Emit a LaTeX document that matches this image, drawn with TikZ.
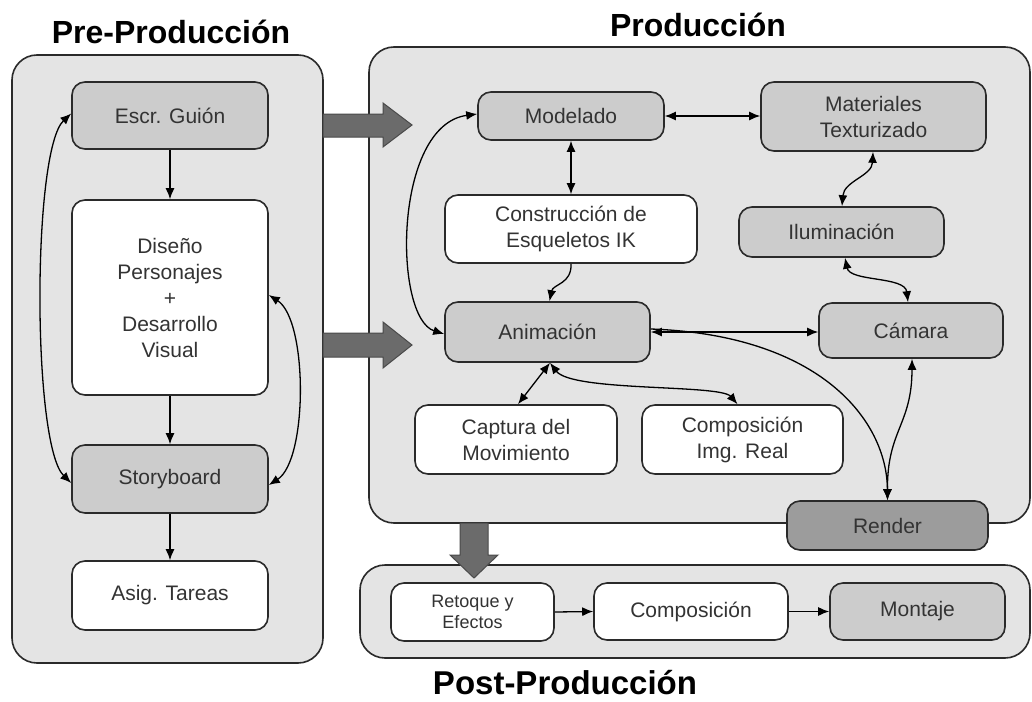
\documentclass[tikz,border=0pt]{standalone}
\usepackage{fontspec}
\setmainfont{Liberation Sans}
\usetikzlibrary{arrows.meta}
\definecolor{panelfill}{HTML}{E4E4E4}
\definecolor{nodegray}{HTML}{CCCCCC}
\definecolor{rendergray}{HTML}{9C9C9C}
\definecolor{bigarrow}{HTML}{6B6B6B}
\definecolor{txt}{HTML}{333333}
\definecolor{edge}{HTML}{2A2A2A}
\begin{document}
\begin{tikzpicture}[x=1pt,y=-1pt,
  panel/.style={draw=edge, line width=1.6pt, fill=panelfill, rounded corners=25pt, inner sep=0pt},
  box/.style={draw=edge, line width=1.6pt, rounded corners=13pt, align=center, text=txt,
              font=\fontsize{21}{26}\selectfont, inner sep=0pt},
  graybox/.style={box, fill=nodegray},
  whitebox/.style={box, fill=white},
  conn/.style={line width=1.3pt, draw=black, >={Latex[length=11pt,width=9pt]}},
  title/.style={font=\bfseries\fontsize{32}{36}\selectfont, anchor=base, inner sep=0pt},
  fat/.style={fill=bigarrow, draw=edge!85, line width=1pt, line join=miter}
]
\useasboundingbox[fill=white] (0,0) rectangle (1032,701);

% panels
\node[panel, minimum width=311pt, minimum height=608pt] (pre)  at (167.5,359) {};
\node[panel, minimum width=661pt, minimum height=476pt] (prod) at (699.5,285) {};
\node[panel, minimum width=670pt, minimum height=93pt]  (post) at (695,611.5) {};

% titles
\node[title] (pretitle)  at (171,44)  {Pre-Producción};
\node[title] (prodtitle) at (698,37)  {Producción};
\node[title, font=\bfseries\fontsize{33}{37}\selectfont] (posttitle) at (565,694) {Post-Producción};

% big arrows
\draw[fat] (323,114) -- (383,114) -- (383,103) -- (412,125) -- (383,147) -- (383,137) -- (323,137) -- cycle;
\draw[fat] (323,333) -- (383,333) -- (383,322) -- (412,345) -- (383,368) -- (383,357) -- (323,357) -- cycle;
\draw[fat] (460,523) -- (460,555) -- (450,555) -- (474,578) -- (498,555) -- (488,555) -- (488,523) -- cycle;

% pre-production nodes
\node[graybox,  minimum width=196pt, minimum height=67pt]  (escr)  at (170,115.5) {Escr. Guión};
\node[whitebox, minimum width=196pt, minimum height=195pt] (diseno) at (170,297.5) {Diseño\\Personajes\\+\\Desarrollo\\Visual};
\node[graybox,  minimum width=196pt, minimum height=68pt]  (story) at (170,479) {Storyboard};
\node[whitebox, minimum width=196pt, minimum height=69pt]  (asig)  at (170,595.5) {Asig. Tareas};

% production nodes
\node[graybox,  minimum width=186pt, minimum height=48pt] (model) at (571,116) {Modelado};
\node[graybox,  minimum width=225pt, minimum height=69pt] (mat)   at (873.5,116.5) {Materiales\\Texturizado};
\node[whitebox, minimum width=252pt, minimum height=68pt] (constr) at (571,229) {Construcción de\\Esqueletos IK};
\node[graybox,  minimum width=205pt, minimum height=50pt] (ilum)  at (841.5,232) {Iluminación};
\node[graybox,  minimum width=205pt, minimum height=60pt] (anim)  at (547.5,332) {Animación};
\node[graybox,  minimum width=184pt, minimum height=55pt] (cam)   at (911,330.5) {Cámara};
\node[whitebox, minimum width=202pt, minimum height=69pt] (capt)  at (516,439.5) {Captura del\\Movimiento};
\node[whitebox, minimum width=201pt, minimum height=69pt] (cimg)  at (742.5,439.5) {Composición\\Img. Real};
\node[box, fill=rendergray, minimum width=201pt, minimum height=49pt] (render) at (887.5,525.5) {Render};

% post-production nodes
\node[whitebox, minimum width=163pt, minimum height=58pt, font=\fontsize{18}{21}\selectfont] (retoq) at (472.5,612) {Retoque y\\Efectos};
\node[whitebox, minimum width=194pt, minimum height=57pt] (compo) at (691,611.5) {Composición};
\node[graybox,  minimum width=175pt, minimum height=57pt] (mont)  at (917.5,611.5) {Montaje};

% pre-production connectors
\draw[conn,->] (escr.south) -- (diseno.north);
\draw[conn,->] (diseno.south) -- (story.north);
\draw[conn,->] (story.south) -- (asig.north);
\draw[conn,<->] ([yshift=2pt]escr.west) .. controls (32,150) and (32,445) .. ([yshift=-4pt]story.west);
\draw[conn,<->] ([yshift=2.5pt]diseno.east) .. controls (308,320) and (308,460) .. ([yshift=-6pt]story.east);

% production connectors
\draw[conn,<->] (model.east) -- (model.east -| mat.west);
\draw[conn,<->] (model.south) -- (constr.north);
\draw[conn,->] (constr.south) .. controls (572,284) and (553,284) .. ([xshift=2pt]anim.north);
\draw[conn,<->] ([yshift=2pt]model.west) .. controls (393,125) and (393,318) .. ([yshift=-2pt]anim.west);
\coordinate (matb) at (873,151);
\coordinate (ilt) at (842,207);
\draw[conn,<->] (mat.south -| matb) .. controls (872,176) and (844,181) .. (ilum.north -| ilt);
\coordinate (ilb) at (845,257);
\coordinate (camt) at (908,303);
\draw[conn,<->] (ilum.south -| ilb) .. controls (850,282) and (905,276) .. (cam.north -| camt);
\draw[conn,<->] (anim.east) -- (anim.east -| cam.west);
\draw[conn,->] ([yshift=3pt]anim.east) .. controls (820,335) and (887,420) .. (render.north);
\coordinate (camb) at (912,358);
\draw[conn,<->] (cam.south -| camb) .. controls (912,425) and (887,430) .. (render.north);
\coordinate (aj) at (550,362);
\draw[conn,<->] (anim.south -| aj) -- ([xshift=2pt]capt.north);
\draw[conn,<->] (anim.south -| aj) .. controls (572,392) and (720,384) .. ([xshift=-5pt]cimg.north);

% post-production connectors
\draw[conn,->] (retoq.east) -- (compo.west);
\draw[conn,->] (compo.east) -- (mont.west);
\end{tikzpicture}
\end{document}
